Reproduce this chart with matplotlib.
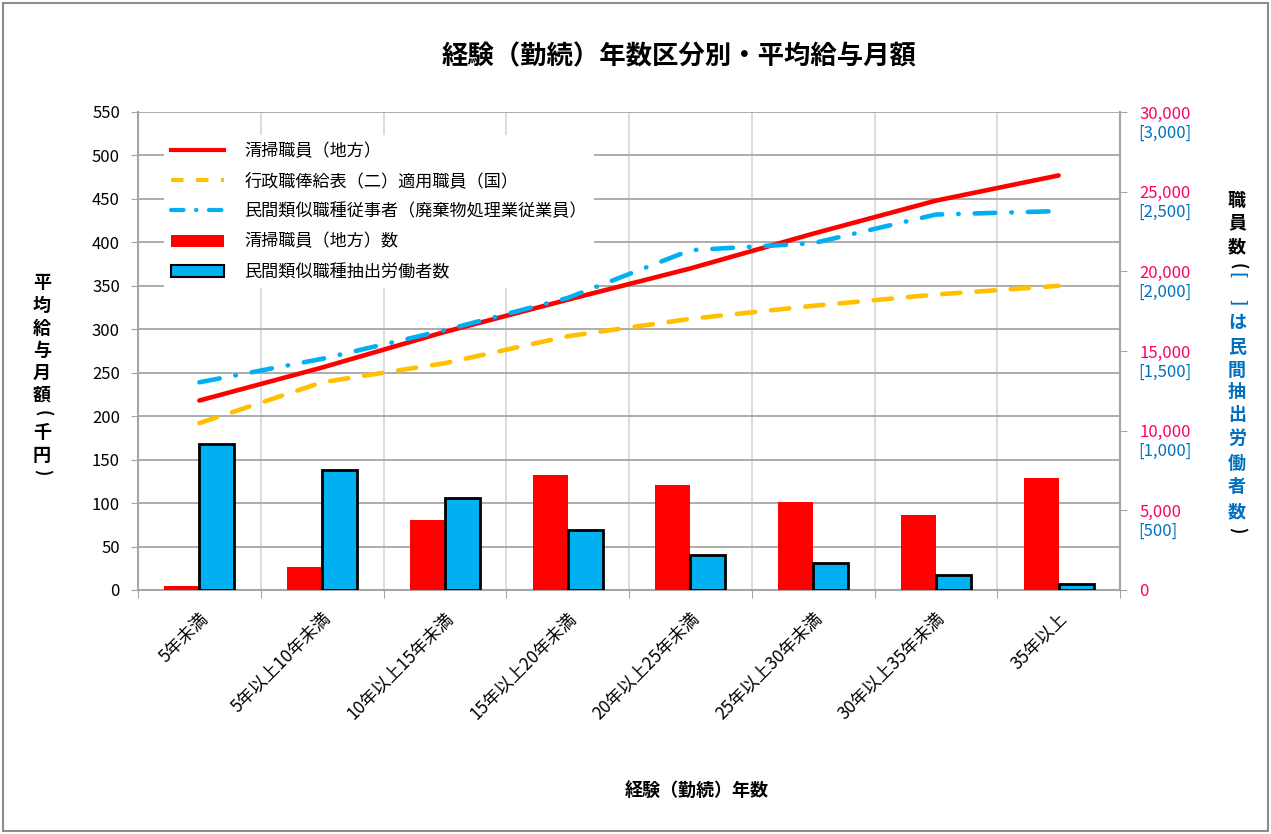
import matplotlib
matplotlib.use("Agg")
import matplotlib.pyplot as plt
from matplotlib.patches import Rectangle, Patch
from matplotlib.lines import Line2D
import numpy as np

plt.rcParams['font.family'] = ['Noto Sans CJK JP', 'DejaVu Sans']

# --- data ---
categories = ["5年未満", "5年以上10年未満", "10年以上15年未満", "15年以上20年未満",
              "20年以上25年未満", "25年以上30年未満", "30年以上35年未満", "35年以上"]
pay_local = [218, 256, 297, 334, 370, 410, 448, 477]        # 清掃職員（地方）
pay_national = [192, 239, 261, 292, 312, 327, 340, 350]     # 行政職俸給表（二）適用職員（国）
pay_private = [239, 266, 299, 336, 391, 399, 432, 436]      # 民間類似職種従事者
count_local = [280, 1430, 4380, 7240, 6570, 5520, 4690, 7030]   # 清掃職員（地方）数
count_private = [916, 755, 579, 375, 220, 170, 94, 40]          # 民間類似職種抽出労働者数 (x10 on axis)

left_ticks = list(range(0, 551, 50))
right_ticks = list(range(0, 30001, 5000))

RED = "#FF0000"
YEL = "#FFC000"
SKY = "#00B0F0"
PINK = "#FF0066"
NAVY = "#0070C0"
GRID = "#A6A6A6"

W, H = 1271, 834
fig = plt.figure(figsize=(W / 100, H / 100), dpi=100)
ax = fig.add_axes([138 / W, 1 - 590 / H, (1120 - 138) / W, (590 - 112) / H])
ax2 = ax.twinx()
ax3 = ax.twinx()

n = len(categories)
centers = np.arange(n) + 0.5
bw = 0.285

# left axis: grid + ticks
ax.set_xlim(0, n)
ax.set_ylim(0, 550)
ax.set_yticks(left_ticks)
ax.tick_params(axis='y', labelsize=12, colors=GRID, labelcolor='black', length=5, pad=8)
ax.set_xticks(np.arange(n + 1))
ax.set_xticklabels([])
ax.set_xticks(centers, minor=True)
ax.set_xticklabels(categories, minor=True, rotation=45, ha='right', va='top',
                   rotation_mode='anchor', fontsize=12.5)
ax.tick_params(axis='x', which='major', length=6, colors=GRID)
ax.tick_params(axis='x', which='minor', length=0, pad=14)
ax.grid(axis='y', color=GRID, lw=1.3)
ax.grid(axis='x', which='major', color='#D9D9D9', lw=1.3)
ax.set_axisbelow(True)
ax.spines['top'].set_visible(False)
for s in ['left', 'bottom', 'right']:
    ax.spines[s].set_color(GRID)
    ax.spines[s].set_linewidth(1.5)

# right axis: bars
ax2.set_ylim(0, 30000)
ax2.bar(centers - bw / 2, count_local, width=bw, color=RED, edgecolor='none', zorder=2)
ax2.bar(centers + bw / 2, np.array(count_private) * 10, width=bw, color=SKY,
        edgecolor='black', linewidth=2, zorder=2)
ax2.set_yticks(right_ticks)
ax2.set_yticklabels([f"{v:,}" for v in right_ticks])
ax2.tick_params(axis='y', labelsize=12, colors=GRID, labelcolor=PINK, length=5, pad=9)
for s in ['top', 'left', 'bottom']:
    ax2.spines[s].set_visible(False)
ax2.spines['right'].set_color(GRID)
ax2.spines['right'].set_linewidth(1.5)
for v in right_ticks[1:]:
    ax2.annotate(f"[{v // 10:,}]", xy=(1, v), xycoords=ax2.get_yaxis_transform(),
                 xytext=(13, -15), textcoords='offset points', ha='left', va='center',
                 fontsize=12, color=NAVY)

# lines on top
ax3.set_ylim(0, 550)
ax3.axis('off')
ax3.plot(centers, pay_local, color=RED, lw=3.3, solid_capstyle='round', zorder=3)
ax3.plot(centers, pay_national, color=YEL, lw=3.3, dashes=(4, 3.5), dash_capstyle='round', zorder=3)
ax3.plot(centers, pay_private, color=SKY, lw=3.3, dashes=(4.5, 3.5, 0.1, 3.5),
         dash_capstyle='round', zorder=3)

handles = [
    Line2D([], [], color=RED, lw=3),
    Line2D([], [], color=YEL, lw=3, dashes=(3, 3)),
    Line2D([], [], color=SKY, lw=3, dashes=(3, 3, 0.1, 3), dash_capstyle='round'),
    Patch(facecolor=RED, edgecolor='none'),
    Patch(facecolor=SKY, edgecolor='black', linewidth=1.5),
]
labels = ["清掃職員（地方）", "行政職俸給表（二）適用職員（国）",
          "民間類似職種従事者（廃棄物処理業従業員）", "清掃職員（地方）数",
          "民間類似職種抽出労働者数"]
leg = ax3.legend(handles, labels, loc='upper left', bbox_to_anchor=(0.018, 0.97),
                 fontsize=12.3, frameon=True, fancybox=False, framealpha=1,
                 facecolor='white', edgecolor='none', handlelength=3.1,
                 labelspacing=0.72, handletextpad=1.2, borderpad=0.4)
leg.set_zorder(10)

# title and axis titles
fig.text(679 / W, 1 - 57 / H, "経験（勤続）年数区分別・平均給与月額", ha='center', va='center',
         fontsize=19, fontweight='bold')
fig.text(697 / W, 1 - 790 / H, "経験（勤続）年数", ha='center', va='center',
         fontsize=13, fontweight='bold')

# stacked axis titles; brackets are turned to read vertically
def stack(x, chars):
    for ch, yp, col in chars:
        turned = ch in "()[]"
        fig.text(x / W, 1 - yp / H, ch, ha='center', va='center',
                 fontsize=12 if turned else 13, fontweight='bold', color=col,
                 rotation=-90 if turned else 0)

stack(42, [("平", 283, 'black'), ("均", 305, 'black'), ("給", 328, 'black'),
           ("与", 350, 'black'), ("月", 373, 'black'), ("額", 395, 'black'),
           ("(", 413, 'black'), ("千", 432, 'black'), ("円", 455, 'black'),
           (")", 472, 'black')])

stack(1237, [("職", 200, 'black'), ("員", 223, 'black'), ("数", 247, 'black'),
             ("(", 266, 'black'), ("[", 275, NAVY), ("]", 302, NAVY),
             ("は", 322, NAVY), ("民", 347, NAVY), ("間", 370, NAVY), ("抽", 392, NAVY),
             ("出", 415, NAVY), ("労", 438, NAVY), ("働", 463, NAVY), ("者", 487, NAVY),
             ("数", 512, NAVY), (")", 530, 'black')])

fig.patches.append(Rectangle((0.002, 0.003), 0.996, 0.994, transform=fig.transFigure,
                             fill=False, edgecolor='#8C8C8C', lw=1.5))

fig.savefig("out.png", dpi=100)
